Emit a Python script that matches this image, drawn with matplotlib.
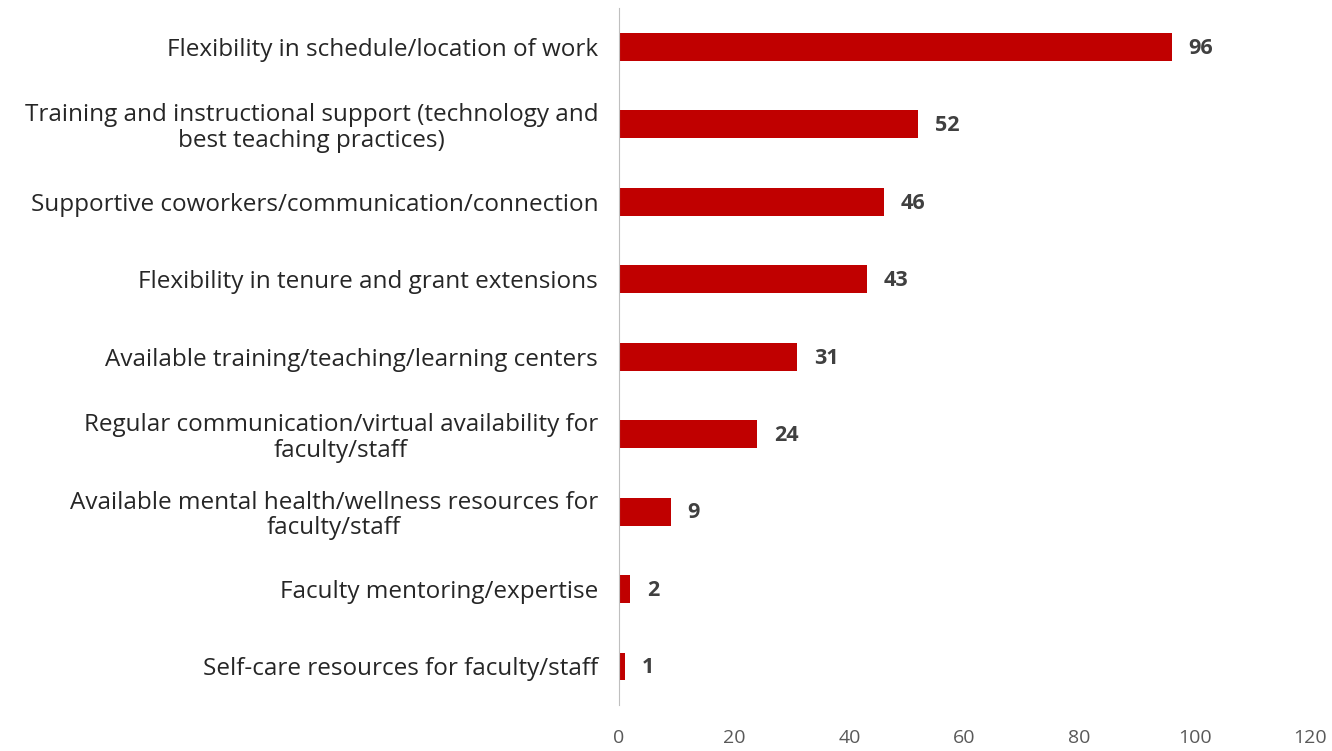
import matplotlib.pyplot as plt

# data (top to bottom as shown)
categories = [
    "Flexibility in schedule/location of work",
    "Training and instructional support (technology and\nbest teaching practices)",
    "Supportive coworkers/communication/connection",
    "Flexibility in tenure and grant extensions",
    "Available training/teaching/learning centers",
    "Regular communication/virtual availability for\nfaculty/staff",
    "Available mental health/wellness resources for\nfaculty/staff",
    "Faculty mentoring/expertise",
    "Self-care resources for faculty/staff",
]
values = [96, 52, 46, 43, 31, 24, 9, 2, 1]
xticks = [0, 20, 40, 60, 80, 100, 120]

plt.rcParams['font.family'] = ['Open Sans', 'DejaVu Sans']

fig = plt.figure(figsize=(13.32, 7.51), dpi=100)
ax = fig.add_axes([0.4647, 0.061, 0.5188, 0.928])

pos = list(range(len(categories)))
ax.barh(pos, values, height=0.36, color='#C00000')
for p, v in zip(pos, values):
    ax.annotate(str(v), (v, p), xytext=(12, -1), textcoords='offset points',
                va='center', ha='left', fontsize=15.5, fontweight='bold', color='#404040')

ax.set_yticks(pos)
ax.set_yticklabels(categories, fontsize=17.5, color='#262626', linespacing=1.1)
for lbl in ax.get_yticklabels():
    lbl.set_multialignment('center')
ax.set_ylim(len(categories) - 0.5, -0.5)
ax.set_xlim(0, 120)
ax.set_xticks(xticks)
ax.set_xticklabels([str(t) for t in xticks], fontsize=14, color='#595959')
ax.tick_params(axis='both', length=0)
ax.tick_params(axis='y', pad=15)
ax.tick_params(axis='x', pad=17)

for s in ['top', 'right', 'bottom']:
    ax.spines[s].set_visible(False)
ax.spines['left'].set_color('#BFBFBF')

fig.savefig('out.png', dpi=100)
